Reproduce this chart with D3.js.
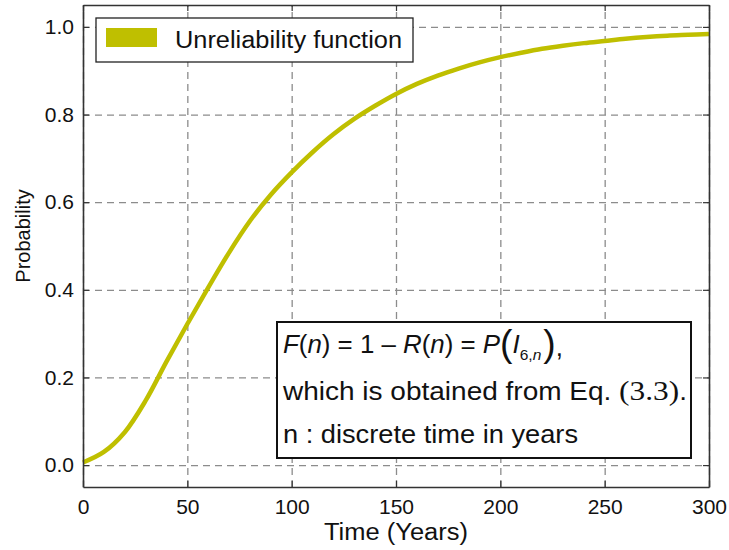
<!DOCTYPE html>
<html><head><meta charset="utf-8">
<script src="https://cdn.jsdelivr.net/npm/d3@7"></script>
<style>
body{margin:0;background:#fff;}
text{font-family:"Liberation Sans",Arial,sans-serif;}
</style></head>
<body><svg id="c" width="729" height="550"></svg>
<script>
const years = [0,10,20,30,40,50,60,70,80,90,100,110,120,130,140,150,160,170,180,190,200,210,220,230,240,250,260,270,280,290,300];
const unreliability = [0.006,0.03,0.075,0.147,0.236,0.322,0.405,0.485,0.557,0.617,0.668,0.714,0.755,0.79,0.82,0.847,0.87,0.889,0.905,0.919,0.931,0.941,0.95,0.957,0.963,0.968,0.973,0.977,0.98,0.982,0.984];
const xTicks = [0,50,100,150,200,250,300];
const yTicks = [0.0,0.2,0.4,0.6,0.8,1.0];
const seriesName = "Unreliability function";

const svg = d3.select("#c");
const L=83, R=709, T=5, B=487;
const x = d3.scaleLinear().domain([0,300]).range([L,R]);
const y = d3.scaleLinear().domain([-0.05,1.05]).range([B,T]);
const W=R-L, H=B-T;

// grid
const grid = svg.append("g");
grid.append("g").attr("transform",`translate(0,${B})`)
  .call(d3.axisBottom(x).tickValues(xTicks).tickSize(-H).tickFormat(""))
  .call(g=>g.select(".domain").remove());
grid.append("g").attr("transform",`translate(${L},0)`)
  .call(d3.axisLeft(y).tickValues(yTicks).tickSize(-W).tickFormat(""))
  .call(g=>g.select(".domain").remove());
grid.selectAll("line").attr("stroke","#8c8c8c").attr("stroke-width",1.3).attr("stroke-dasharray","7,5");

// line
const line = d3.line().x((d,i)=>x(years[i])).y(d=>y(d)).curve(d3.curveCatmullRom.alpha(0.5));
svg.append("path").datum(unreliability).attr("d",line)
  .attr("fill","none").attr("stroke","#bfbf00").attr("stroke-width",4.5);

// axes
const fmtY = d3.format(".1f");
const ax = svg.append("g");
ax.append("g").attr("transform",`translate(0,${B})`)
  .call(d3.axisBottom(x).tickValues(xTicks).tickSizeInner(-6).tickSizeOuter(0).tickPadding(12));
ax.append("g").attr("transform",`translate(0,${T})`)
  .call(d3.axisTop(x).tickValues(xTicks).tickSizeInner(-6).tickSizeOuter(0).tickFormat(""));
ax.append("g").attr("transform",`translate(${L},0)`)
  .call(d3.axisLeft(y).tickValues(yTicks).tickSizeInner(-6).tickSizeOuter(0).tickPadding(9).tickFormat(fmtY));
ax.append("g").attr("transform",`translate(${R},0)`)
  .call(d3.axisRight(y).tickValues(yTicks).tickSizeInner(-6).tickSizeOuter(0).tickFormat(""));
ax.selectAll(".domain").attr("stroke","#333").attr("stroke-width",1.6);
ax.selectAll(".tick line").attr("stroke","#333").attr("stroke-width",1.2);
ax.selectAll(".tick text").attr("font-size",21).attr("fill","#111").attr("font-family","Liberation Sans, Arial, sans-serif");

// axis labels
svg.append("text").attr("x",(L+R)/2).attr("y",540).attr("text-anchor","middle")
  .attr("font-size",23).attr("fill","#111")
  .attr("textLength",144).attr("lengthAdjust","spacingAndGlyphs").text("Time (Years)");
svg.append("text").attr("transform","translate(30,236) rotate(-90)").attr("text-anchor","middle")
  .attr("font-size",20).attr("fill","#111").text("Probability");

// legend
svg.append("rect").attr("x",96).attr("y",18).attr("width",317).attr("height",44)
  .attr("fill","#fff").attr("stroke","#222").attr("stroke-width",1.3);
svg.append("rect").attr("x",106).attr("y",28).attr("width",51).attr("height",19).attr("fill","#bfbf00");
svg.append("text").attr("x",175).attr("y",48).attr("font-size",23).attr("fill","#111")
  .attr("textLength",227).attr("lengthAdjust","spacingAndGlyphs").text(seriesName);

// annotation box
svg.append("rect").attr("x",277).attr("y",322).attr("width",414).attr("height",136)
  .attr("fill","#fff").attr("stroke","#111").attr("stroke-width",2);
const t1 = svg.append("text").attr("x",283).attr("y",353).attr("font-size",25).attr("fill","#111")
  .attr("textLength",280).attr("lengthAdjust","spacingAndGlyphs");
t1.append("tspan").attr("font-style","italic").text("F");
t1.append("tspan").text("(");
t1.append("tspan").attr("font-style","italic").text("n");
t1.append("tspan").text(") = 1 \u2013 ");
t1.append("tspan").attr("font-style","italic").text("R");
t1.append("tspan").text("(");
t1.append("tspan").attr("font-style","italic").text("n");
t1.append("tspan").text(") = ");
t1.append("tspan").attr("font-style","italic").text("P");
t1.append("tspan").attr("font-size",36).attr("font-weight",300).attr("dy",3).text("(");
t1.append("tspan").attr("font-style","italic").attr("dy",-3).text("I");
t1.append("tspan").attr("font-size",15).attr("dy",7).text("6,");
t1.append("tspan").attr("font-size",15).attr("font-style","italic").text("n");
t1.append("tspan").attr("font-size",36).attr("dy",-4).attr("dx",2).text(")");
t1.append("tspan").attr("dy",0).text(",");
const t2 = svg.append("text").attr("x",283).attr("y",400).attr("font-size",25).attr("fill","#111")
  .attr("textLength",404).attr("lengthAdjust","spacingAndGlyphs");
t2.append("tspan").text("which is obtained from Eq. ");
t2.append("tspan").attr("font-family","Liberation Serif, Times New Roman, serif").attr("font-size",28).text("(3.3)");
t2.append("tspan").text(".");
svg.append("text").attr("x",283).attr("y",443).attr("font-size",25).attr("fill","#111")
  .attr("textLength",295).attr("lengthAdjust","spacingAndGlyphs").text("n : discrete time in years");
</script></body></html>
